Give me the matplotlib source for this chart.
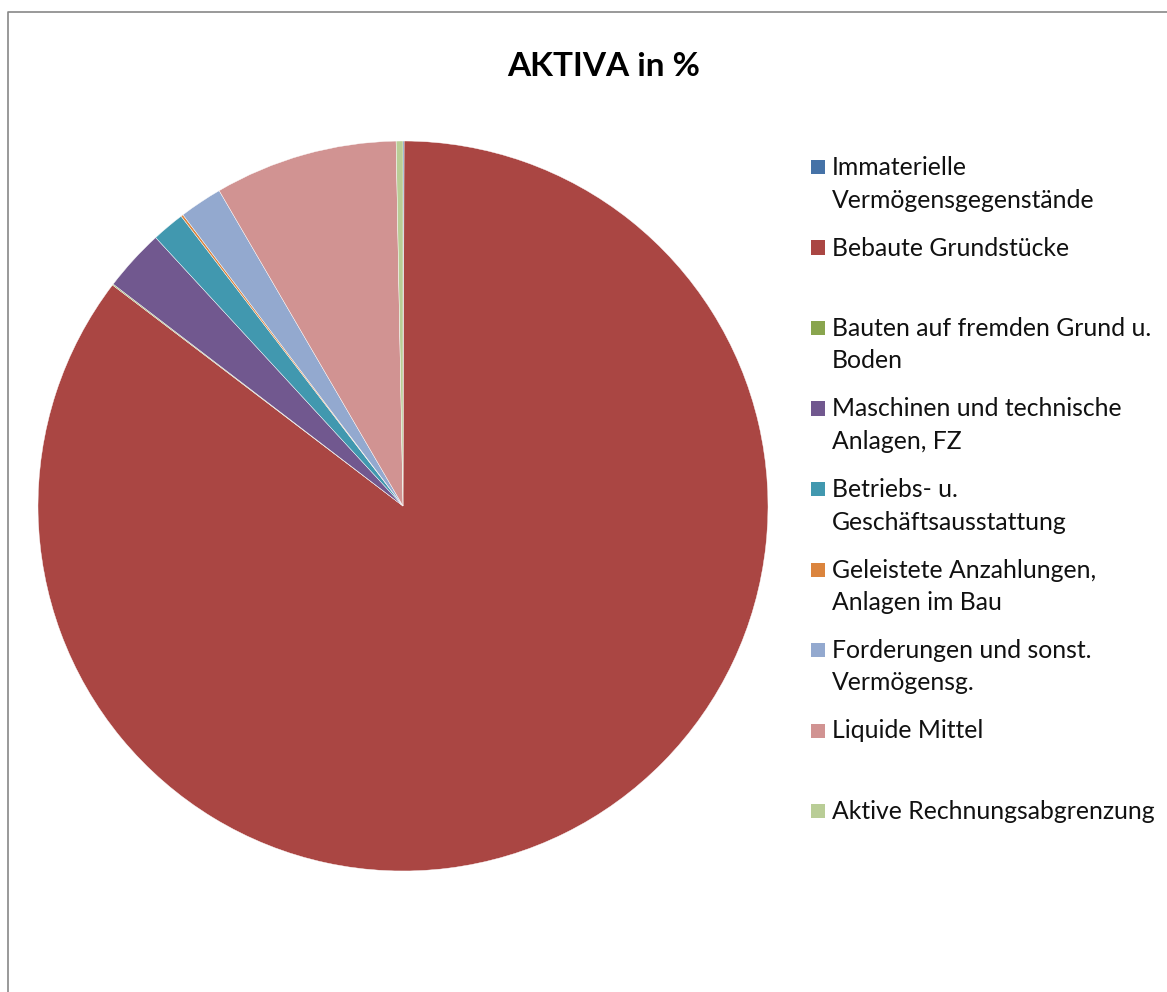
import matplotlib.pyplot as plt
from matplotlib.patches import Rectangle
from matplotlib.lines import Line2D

# data (percent of total assets)
labels = [
    "Immaterielle\nVermögensgegenstände",
    "Bebaute Grundstücke",
    "Bauten auf fremden Grund u.\nBoden",
    "Maschinen und technische\nAnlagen, FZ",
    "Betriebs- u.\nGeschäftsausstattung",
    "Geleistete Anzahlungen,\nAnlagen im Bau",
    "Forderungen und sonst.\nVermögensg.",
    "Liquide Mittel",
    "Aktive Rechnungsabgrenzung",
]
values = [0.05, 85.3, 0.05, 2.75, 1.45, 0.1, 1.9, 8.1, 0.3]
colors = ["#4572A7", "#AA4643", "#89A54E", "#71588F", "#4198AF",
          "#DB843D", "#93A9CF", "#D19392", "#B9CD96"]

W, H = 1167, 992
fig = plt.figure(figsize=(W / 100, H / 100), dpi=100)
plt.rcParams['font.family'] = ['Lato', 'DejaVu Sans']

# pie area in pixels: center (403, 506), radius 365
ax = fig.add_axes([38 / W, (H - 871) / H, 730 / W, 730 / H])
ax.pie(values, colors=colors, startangle=90, counterclock=False,
       wedgeprops=dict(edgecolor="white", linewidth=0.3))
ax.set_xlim(-1, 1)
ax.set_ylim(-1, 1)
ax.set_aspect("equal")
ax.axis("off")

fig.text(604 / W, 1 - 66 / H, "AKTIVA in %", ha="center", va="center",
         fontsize=24, fontweight="bold")

# legend drawn by hand: each entry takes a two-line slot
for i, (lab, col) in enumerate(zip(labels, colors)):
    y = 167 + i * 80.5
    fig.patches.append(Rectangle((811 / W, 1 - (y + 7) / H), 14 / W, 14 / H,
                                 transform=fig.transFigure, facecolor=col,
                                 edgecolor="none"))
    fig.text(832 / W, 1 - (y - 11) / H, lab, ha="left", va="top",
             fontsize=17.8, linespacing=1.5, color="#111111")

# chart border (only top and left edges are visible)
fig.lines.append(Line2D([8 / W, 8 / W, 1], [0, 1 - 12 / H, 1 - 12 / H],
                        transform=fig.transFigure, color="#878787", lw=1.2))

fig.savefig("out.png", dpi=100)
